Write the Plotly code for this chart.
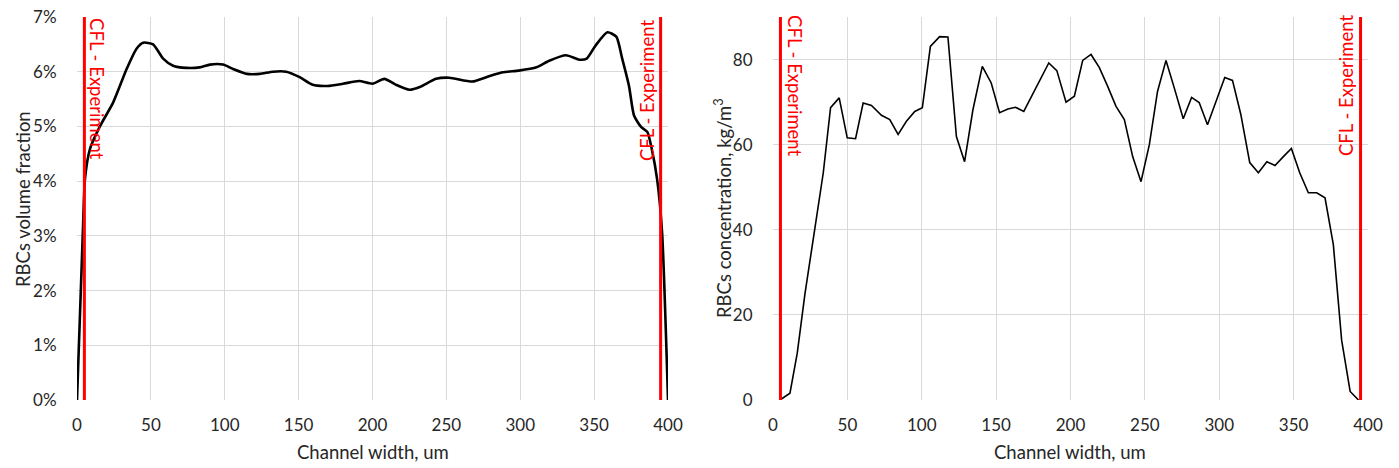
import plotly.graph_objects as go

# ---- Left chart: RBCs volume fraction (%) vs channel width (um)
x_vf = [0, 4, 5.4, 8.8, 15.5, 24.5, 33.6, 40.3, 44.8, 51.5, 58.3, 65, 74, 83, 90, 98.8,
        105.6, 115, 123.6, 132.6, 141.6, 150.7, 159.5, 169.6, 180, 191, 200, 208, 216,
        225, 232, 243, 252, 267.6, 277, 288, 299, 311, 319.6, 331, 340, 345, 351, 359,
        365, 369, 373.6, 377, 381.8, 386, 389, 392.6, 396, 400]
y_vf = [0, 3.1, 4.04, 4.59, 5.0, 5.44, 6.05, 6.42, 6.53, 6.5, 6.24, 6.11, 6.07, 6.08,
        6.13, 6.13, 6.05, 5.96, 5.96, 6.0, 6.0, 5.9, 5.76, 5.74, 5.78, 5.83, 5.78, 5.87,
        5.76, 5.67, 5.72, 5.87, 5.89, 5.82, 5.9, 5.99, 6.02, 6.08, 6.2, 6.3, 6.22, 6.24,
        6.48, 6.72, 6.64, 6.24, 5.74, 5.2, 4.99, 4.9, 4.59, 4.04, 3.06, 0]

# ---- Right chart: RBCs concentration (kg/m3) vs channel width (um)
x_conc = [4.7, 11.4, 16.3, 21.5, 28, 33.8, 38.7, 44.5, 49.9, 55.5, 60.6, 66.2, 72.9, 78.5,
          84.1, 89.7, 95.3, 100.4, 105.8, 112, 117.6, 123.3, 128.8, 134.4, 140.7, 146.7,
          152.3, 157.9, 163, 168.6, 174.5, 180.3, 185.4, 190.8, 197, 202.6, 208.2, 213.8,
          219.4, 225, 230.6, 236.2, 241.8, 247.4, 253, 258.5, 264.2, 269.7, 275.8, 281.4,
          286.5, 292.1, 297.7, 303.7, 308.9, 314.5, 320.5, 326.3, 332, 337.5, 343.1, 348.5,
          354.1, 359.9, 365.5, 371.1, 376.7, 382.3, 388, 393.6]
y_conc = [0, 1.6, 11, 25, 40, 53.4, 68.7, 71, 61.6, 61.4, 69.8, 69.2, 66.9, 65.9, 62.4,
          65.5, 67.8, 68.7, 83.1, 85.4, 85.3, 61.9, 56, 68.2, 78.4, 74.5, 67.5, 68.4, 68.8,
          67.8, 71.8, 75.7, 79.2, 77.4, 70, 71.4, 79.8, 81.2, 78.1, 73.7, 69, 65.9, 57.2,
          51.3, 60, 72.5, 79.8, 73.4, 66.1, 71.1, 69.9, 64.7, 70.1, 75.8, 75.1, 67.1, 55.8,
          53.4, 56, 55.1, 57.2, 59.1, 53.4, 48.7, 48.7, 47.5, 36.5, 14, 2, 0]

# ---- CFL experiment markers
cfl_x = [5, 395]
cfl_label = "CFL - Experiment"
vf_range = [0, 7]
conc_range = [0, 90]

W, H = 1399, 468
FONT = "Lato, 'Open Sans', sans-serif"
TXT = "#262626"
GRID = "#d9d9d9"
RED = "#ff0000"

fig = go.Figure()

# left
fig.add_trace(go.Scatter(x=x_vf, y=y_vf, mode="lines", xaxis="x", yaxis="y",
                         line=dict(color="black", width=2.6, shape="spline", smoothing=0.6),
                         showlegend=False))
for cx in cfl_x:
    fig.add_trace(go.Scatter(x=[cx, cx], y=vf_range, mode="lines", xaxis="x", yaxis="y",
                             line=dict(color=RED, width=3), showlegend=False))
# right
fig.add_trace(go.Scatter(x=x_conc, y=y_conc, mode="lines", xaxis="x2", yaxis="y2",
                         line=dict(color="black", width=1.6), showlegend=False))
for cx in cfl_x:
    fig.add_trace(go.Scatter(x=[cx, cx], y=conc_range, mode="lines", xaxis="x2", yaxis="y2",
                             line=dict(color=RED, width=3), showlegend=False))

ydom = [1 - 400 / H, 1 - 17 / H]
xcommon = dict(range=[0, 400], dtick=50, tick0=0, showgrid=True, gridcolor=GRID, gridwidth=1,
               zeroline=False, showline=False, ticks="outside", ticklen=10, automargin=False,
               tickcolor="rgba(0,0,0,0)", tickfont=dict(family=FONT, size=17, color=TXT),
               fixedrange=True)
ycommon = dict(showgrid=True, gridcolor=GRID, gridwidth=1, zeroline=False, showline=False,
               ticks="outside", ticklen=16, tickcolor="rgba(0,0,0,0)", automargin=False,
               tickfont=dict(family=FONT, size=17, color=TXT), fixedrange=True)

fig.update_layout(
    width=W, height=H,
    margin=dict(l=0, r=0, t=0, b=0, autoexpand=False),
    paper_bgcolor="white", plot_bgcolor="white",
    font=dict(family=FONT, color=TXT),
    xaxis=dict(domain=[77 / W, 668 / W], anchor="y", **xcommon),
    yaxis=dict(domain=ydom, anchor="x", range=vf_range, dtick=1, ticksuffix="%", **ycommon),
    xaxis2=dict(domain=[773 / W, 1368 / W], anchor="y2", **xcommon),
    yaxis2=dict(domain=ydom, anchor="x2", range=conc_range, dtick=20, **ycommon),
)

TFS = 18.5
ann = []
# axis titles
ann.append(dict(text="Channel width, um", xref="paper", yref="paper", x=372.5 / W, y=1 - 452 / H,
                xanchor="center", yanchor="middle", showarrow=False,
                font=dict(family=FONT, size=TFS, color=TXT)))
ann.append(dict(text="Channel width, um", xref="paper", yref="paper", x=1070 / W, y=1 - 452 / H,
                xanchor="center", yanchor="middle", showarrow=False,
                font=dict(family=FONT, size=TFS, color=TXT)))
ann.append(dict(text="RBCs volume fraction", xref="paper", yref="paper", x=23 / W, y=1 - 199 / H,
                xanchor="center", yanchor="middle", textangle=-90, showarrow=False,
                font=dict(family=FONT, size=TFS, color=TXT)))
ann.append(dict(text="RBCs concentration, kg/m<sup>3</sup>", xref="paper", yref="paper",
                x=722 / W, y=1 - 208 / H, xanchor="center", yanchor="middle", textangle=-90,
                showarrow=False, font=dict(family=FONT, size=TFS, color=TXT)))
# CFL labels
ann.append(dict(text=cfl_label, xref="x", yref="y", x=cfl_x[0], y=vf_range[1], xshift=13,
                yshift=1, xanchor="center", yanchor="top", textangle=90, showarrow=False,
                font=dict(family=FONT, size=TFS, color=RED)))
ann.append(dict(text=cfl_label, xref="x", yref="y", x=cfl_x[1], y=vf_range[1], xshift=-14,
                yshift=-1, xanchor="center", yanchor="top", textangle=-90, showarrow=False,
                font=dict(family=FONT, size=TFS, color=RED)))
ann.append(dict(text=cfl_label, xref="x2", yref="y2", x=cfl_x[0], y=conc_range[1], xshift=15,
                yshift=4, xanchor="center", yanchor="top", textangle=90, showarrow=False,
                font=dict(family=FONT, size=TFS, color=RED)))
ann.append(dict(text=cfl_label, xref="x2", yref="y2", x=cfl_x[1], y=conc_range[1], xshift=-15,
                yshift=4, xanchor="center", yanchor="top", textangle=-90, showarrow=False,
                font=dict(family=FONT, size=TFS, color=RED)))
fig.update_layout(annotations=ann)

fig.write_html("out.html")
